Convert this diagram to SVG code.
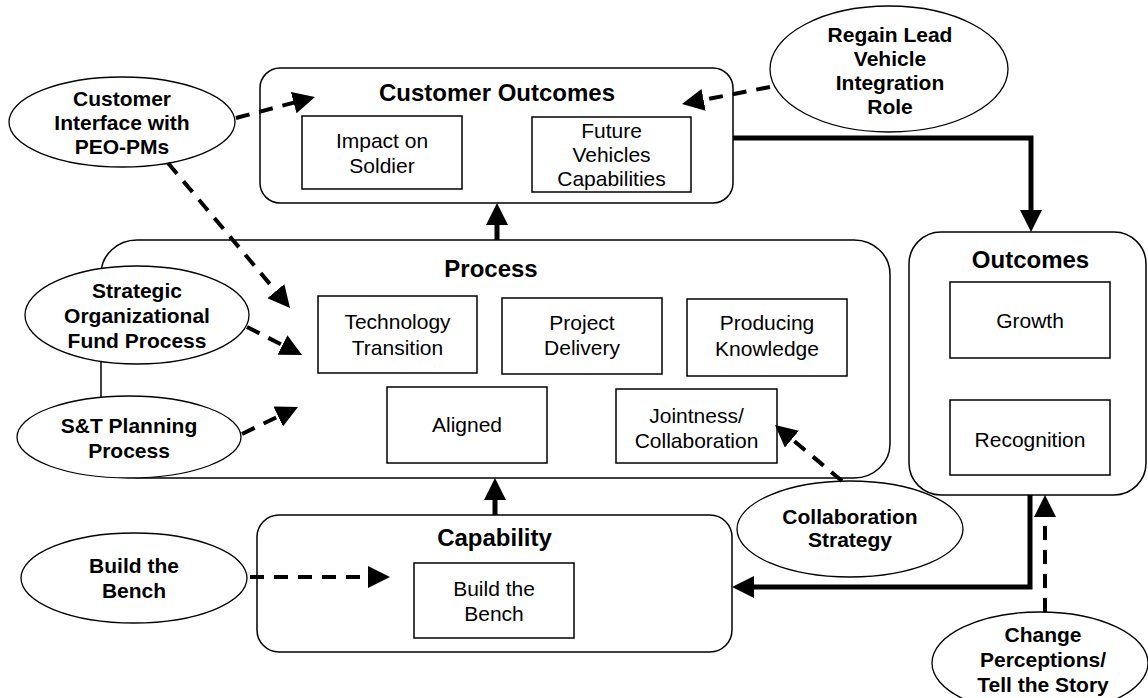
<svg xmlns="http://www.w3.org/2000/svg" width="1148" height="698" viewBox="0 0 1148 698">
<defs>
<style>
.box{fill:#fff;stroke:#000;stroke-width:1.5}
.grp{fill:none;stroke:#000;stroke-width:1.5}
.ell{fill:#fff;stroke:#000;stroke-width:1.3}
.t{font-family:"Liberation Sans",Arial,sans-serif;font-size:21px;fill:#000;text-anchor:middle}
.b{font-weight:bold}
.title{font-family:"Liberation Sans",Arial,sans-serif;font-size:24px;font-weight:bold;fill:#000;text-anchor:middle}
.dash{fill:none;stroke:#000;stroke-width:4;stroke-dasharray:14 10;marker-end:url(#ah)}
.solid{fill:none;stroke:#000;stroke-width:5;marker-end:url(#ah)}
</style>
<marker id="ah" viewBox="0 0 22 22" refX="12" refY="11" markerWidth="22" markerHeight="22" markerUnits="userSpaceOnUse" orient="auto">
<path d="M0,0 L22,11 L0,22 z" fill="#000"/>
</marker>
</defs>
<rect width="1148" height="698" fill="#fff"/>

<g id="process">
<rect class="grp" x="101" y="240" width="789" height="238" rx="36" ry="34"/>
<text class="title" x="491" y="277">Process</text>
</g>
<g id="technology-transition">
<rect class="box" x="318" y="296" width="159" height="77"/>
<text class="t" x="397.5" y="329">Technology</text>
<text class="t" x="397.5" y="355">Transition</text>
</g>
<g id="project-delivery">
<rect class="box" x="502" y="298" width="160" height="76"/>
<text class="t" x="582" y="330">Project</text>
<text class="t" x="582" y="355">Delivery</text>
</g>
<g id="producing-knowledge">
<rect class="box" x="687" y="299" width="160" height="77"/>
<text class="t" x="767" y="330">Producing</text>
<text class="t" x="767" y="356">Knowledge</text>
</g>
<g id="aligned">
<rect class="box" x="387" y="387" width="160" height="76"/>
<text class="t" x="467" y="432">Aligned</text>
</g>
<g id="jointness">
<rect class="box" x="616" y="389" width="161" height="74"/>
<text class="t" x="696.5" y="423">Jointness/</text>
<text class="t" x="696.5" y="448">Collaboration</text>
</g>

<g id="customer-outcomes">
<rect class="grp" x="260" y="68" width="473" height="135" rx="20"/>
<text class="title" x="497" y="101">Customer Outcomes</text>
</g>
<g id="impact-on-soldier">
<rect class="box" x="302" y="116" width="160" height="73"/>
<text class="t" x="382" y="148">Impact on</text>
<text class="t" x="382" y="173">Soldier</text>
</g>
<g id="future-vehicles">
<rect class="box" x="532" y="117" width="159" height="75"/>
<text class="t" x="611.5" y="138">Future</text>
<text class="t" x="611.5" y="162">Vehicles</text>
<text class="t" x="611.5" y="186">Capabilities</text>
</g>

<g id="outcomes">
<rect class="grp" x="909" y="232" width="237" height="263" rx="32"/>
<text class="title" x="1030.5" y="268">Outcomes</text>
</g>
<g id="growth">
<rect class="box" x="950" y="282" width="160" height="76"/>
<text class="t" x="1030" y="328">Growth</text>
</g>
<g id="recognition">
<rect class="box" x="950" y="400" width="160" height="75"/>
<text class="t" x="1030" y="447">Recognition</text>
</g>

<g id="capability">
<rect class="grp" x="257" y="515" width="475" height="137" rx="22"/>
<text class="title" x="494.5" y="546">Capability</text>
</g>
<g id="build-the-bench-box">
<rect class="box" x="414" y="563" width="160" height="75"/>
<text class="t" x="494" y="596">Build the</text>
<text class="t" x="494" y="621">Bench</text>
</g>

<g id="customer-interface">
<ellipse class="ell" cx="122" cy="122" rx="113" ry="45"/>
<text class="t b" x="122" y="106">Customer</text>
<text class="t b" x="122" y="130">Interface with</text>
<text class="t b" x="122" y="154">PEO-PMs</text>
</g>
<g id="regain-lead">
<ellipse class="ell" cx="889" cy="69" rx="119" ry="63"/>
<text class="t b" x="890" y="42">Regain Lead</text>
<text class="t b" x="890" y="66">Vehicle</text>
<text class="t b" x="890" y="90">Integration</text>
<text class="t b" x="890" y="114">Role</text>
</g>
<g id="strategic-fund">
<ellipse class="ell" cx="137" cy="315" rx="112" ry="49"/>
<text class="t b" x="137" y="298">Strategic</text>
<text class="t b" x="137" y="323">Organizational</text>
<text class="t b" x="137" y="348">Fund Process</text>
</g>
<g id="st-planning">
<ellipse class="ell" cx="129" cy="437" rx="112" ry="41"/>
<text class="t b" x="129" y="433">S&amp;T Planning</text>
<text class="t b" x="129" y="458">Process</text>
</g>
<g id="build-the-bench">
<ellipse class="ell" cx="134" cy="578" rx="113" ry="45"/>
<text class="t b" x="134" y="573">Build the</text>
<text class="t b" x="134" y="598">Bench</text>
</g>
<g id="collaboration-strategy">
<ellipse class="ell" cx="850" cy="529" rx="113" ry="48"/>
<text class="t b" x="850" y="524">Collaboration</text>
<text class="t b" x="850" y="547">Strategy</text>
</g>
<g id="change-perceptions">
<ellipse class="ell" cx="1040" cy="663" rx="108" ry="51"/>
<text class="t b" x="1043" y="642">Change</text>
<text class="t b" x="1043" y="667">Perceptions/</text>
<text class="t b" x="1043" y="692">Tell the Story</text>
</g>

<g id="connectors">
<line class="dash" x1="236" y1="118" x2="305.3" y2="99.6"/>
<line class="dash" x1="168" y1="163" x2="283.6" y2="300.3"/>
<line class="dash" x1="770" y1="87" x2="691.8" y2="102.1"/>
<line class="dash" x1="247" y1="327" x2="293.1" y2="350.5"/>
<line class="dash" x1="242" y1="434" x2="289" y2="411.3"/>
<line class="dash" x1="842" y1="481" x2="782.7" y2="431.4"/>
<line class="dash" x1="250" y1="577" x2="380" y2="577"/>
<line class="dash" x1="1045" y1="612" x2="1045" y2="505"/>
<line class="solid" x1="497" y1="240" x2="497" y2="213"/>
<line class="solid" x1="495" y1="515" x2="495" y2="488"/>
<path class="solid" d="M733,138 H1031 V222"/>
<path class="solid" d="M1030,495 V587 H742"/>
</g>
</svg>
